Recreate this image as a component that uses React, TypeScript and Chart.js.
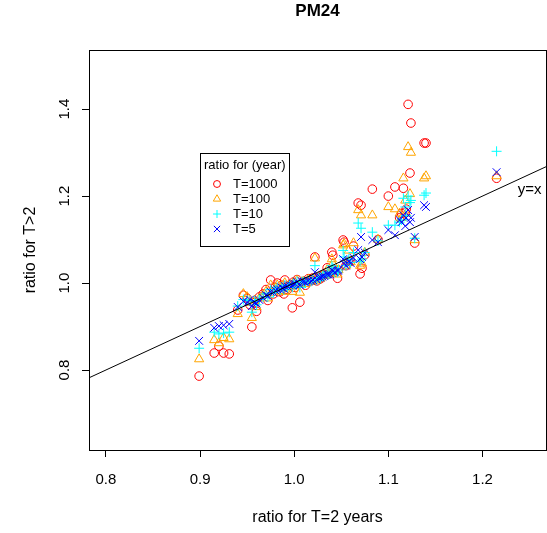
import React, { useEffect, useRef } from "react";
import { Chart, registerables } from "chart.js";

Chart.register(...registerables);

const TITLE = "PM24";
const X_LABEL = "ratio for T=2 years";
const Y_LABEL = "ratio for T>2";
const LEGEND_TITLE = "ratio for (year)";
const SERIES_NAMES = ["T=1000", "T=100", "T=10", "T=5"];
const SERIES_COLORS = ["#FF0000", "#FFA500", "#00FFFF", "#0000FF"];
const REF_LABEL = "y=x";
const X_TICKS = [0.8, 0.9, 1.0, 1.1, 1.2];
const Y_TICKS = [0.8, 1.0, 1.2, 1.4];
const X_MIN = 0.782;
const X_MAX = 1.2675;
const Y_MIN = 0.616;
const Y_MAX = 1.536;

// ratio for T=2 years (x values, one per station)
const ratioT2 = [
  0.899, 0.915, 0.920, 0.925, 0.931, 0.940, 0.946, 0.950, 0.955, 0.953,
  0.958, 0.960, 0.963, 0.967, 0.970, 0.972, 0.975, 0.978, 0.980, 0.982,
  0.985, 0.987, 0.989, 0.990, 0.993, 0.995, 0.998, 0.999, 1.001, 1.003,
  1.006, 1.008, 1.010, 1.012, 1.015, 1.018, 1.020, 1.022, 1.024, 1.026,
  1.028, 1.030, 1.032, 1.035, 1.036, 1.038, 1.040, 1.041, 1.043, 1.046,
  1.047, 1.052, 1.053, 1.055, 1.058, 1.060, 1.063, 1.070, 1.068, 1.071,
  1.072, 1.075, 1.083, 1.089, 1.100, 1.107, 1.112, 1.114, 1.116, 1.118,
  1.119, 1.121, 1.123, 1.124, 1.128, 1.138, 1.140, 1.215,
];

const ratioT1000 = [
  0.786, 0.839, 0.855, 0.839, 0.837, 0.938, 0.972, 0.965, 0.899, 0.950,
  0.955, 0.935, 0.968, 0.975, 0.985, 0.960, 1.007, 0.975, 0.990, 1.000,
  0.980, 0.995, 0.975, 1.007, 0.985, 0.995, 0.943, 1.002, 0.990, 1.008,
  0.956, 1.000, 1.004, 0.995, 1.010, 1.005, 1.012, 1.060, 1.005, 1.012,
  1.010, 1.018, 1.020, 1.035, 1.020, 1.023, 1.071, 1.064, 1.025, 1.011,
  1.030, 1.099, 1.094, 1.040, 1.050, 1.050, 1.085, 1.021, 1.184, 1.179,
  1.034, 1.065, 1.216, 1.100, 1.200, 1.221, 1.150, 1.160, 1.218, 1.163,
  1.170, 1.411, 1.253, 1.368, 1.092, 1.322, 1.322, 1.241,
];

const ratioT100 = [
  0.825, 0.869, 0.862, 0.874, 0.871, 0.929, 0.975, 0.968, 0.920, 0.955,
  0.960, 0.945, 0.965, 0.972, 0.980, 0.965, 0.995, 0.978, 0.988, 0.995,
  0.982, 0.993, 0.980, 1.000, 0.988, 0.995, 0.980, 1.000, 0.993, 1.006,
  0.978, 1.002, 1.003, 0.998, 1.008, 1.004, 1.010, 1.057, 1.006, 1.012,
  1.011, 1.017, 1.018, 1.030, 1.020, 1.022, 1.055, 1.045, 1.025, 1.020,
  1.030, 1.087, 1.090, 1.040, 1.075, 1.048, 1.092, 1.040, 1.168, 1.156,
  1.045, 1.070, 1.156, 1.100, 1.175, 1.170, 1.160, 1.150, 1.241, 1.190,
  1.160, 1.313, 1.205, 1.300, 1.099, 1.241, 1.246, 1.246,
];

const ratioT10 = [
  0.850, 0.887, 0.883, 0.885, 0.887, 0.947, 0.962, 0.960, 0.933, 0.960,
  0.958, 0.950, 0.962, 0.968, 0.975, 0.968, 0.985, 0.978, 0.985, 0.990,
  0.984, 0.990, 0.985, 0.995, 0.990, 0.995, 0.990, 0.999, 0.996, 1.004,
  0.990, 1.003, 1.003, 1.000, 1.006, 1.004, 1.008, 1.040, 1.007, 1.012,
  1.012, 1.016, 1.017, 1.025, 1.020, 1.021, 1.040, 1.035, 1.025, 1.025,
  1.030, 1.075, 1.060, 1.040, 1.055, 1.047, 1.070, 1.050, 1.138, 1.126,
  1.055, 1.070, 1.117, 1.097, 1.133, 1.133, 1.140, 1.145, 1.195, 1.175,
  1.155, 1.200, 1.185, 1.190, 1.103, 1.202, 1.207, 1.303,
];

const ratioT5 = [
  0.867, 0.897, 0.901, 0.903, 0.906, 0.945, 0.958, 0.955, 0.947, 0.962,
  0.955, 0.953, 0.961, 0.966, 0.972, 0.970, 0.980, 0.978, 0.983, 0.986,
  0.985, 0.989, 0.987, 0.993, 0.992, 0.995, 0.994, 0.998, 0.998, 1.003,
  0.995, 1.004, 1.003, 1.002, 1.005, 1.005, 1.007, 1.025, 1.008, 1.012,
  1.013, 1.015, 1.016, 1.020, 1.020, 1.020, 1.030, 1.028, 1.025, 1.028,
  1.030, 1.055, 1.045, 1.040, 1.050, 1.046, 1.058, 1.055, 1.076, 1.106,
  1.060, 1.070, 1.099, 1.094, 1.122, 1.110, 1.145, 1.140, 1.156, 1.131,
  1.150, 1.168, 1.140, 1.150, 1.106, 1.179, 1.175, 1.255,
];

const SERIES_VALUES = [ratioT1000, ratioT100, ratioT10, ratioT5];
const POINT_STYLES = ["circle", "triangle", "cross", "crossRot"];
const POINT_RADII = [4.3, 5.3, 5, 5.5];

const FONT_FAMILY = "'Liberation Sans', Arial, Helvetica, sans-serif";

function drawSymbol(ctx: CanvasRenderingContext2D, style: string, x: number, y: number, r: number) {
  ctx.beginPath();
  if (style === "circle") {
    ctx.arc(x, y, r, 0, Math.PI * 2);
  } else if (style === "triangle") {
    for (let k = 0; k < 3; k++) {
      const a = (k * 2 * Math.PI) / 3;
      const px = x + Math.sin(a) * r;
      const py = y - Math.cos(a) * r;
      if (k === 0) ctx.moveTo(px, py);
      else ctx.lineTo(px, py);
    }
    ctx.closePath();
  } else if (style === "cross") {
    ctx.moveTo(x - r, y);
    ctx.lineTo(x + r, y);
    ctx.moveTo(x, y - r);
    ctx.lineTo(x, y + r);
  } else {
    const d = r * Math.SQRT1_2;
    ctx.moveTo(x - d, y - d);
    ctx.lineTo(x + d, y + d);
    ctx.moveTo(x - d, y + d);
    ctx.lineTo(x + d, y - d);
  }
  ctx.stroke();
}

const decorPlugin = {
  id: "decor",
  afterDraw(chart: any) {
    const { ctx, chartArea: a, scales } = chart;
    const xs = scales.x;
    const ys = scales.y;
    ctx.save();
    // plot box
    ctx.strokeStyle = "#000";
    ctx.lineWidth = 1;
    ctx.strokeRect(Math.round(a.left) + 0.5, Math.round(a.top) + 0.5, Math.round(a.right - a.left), Math.round(a.bottom - a.top));

    // y=x label
    ctx.fillStyle = "#000";
    ctx.font = `15px ${FONT_FAMILY}`;
    ctx.textAlign = "center";
    ctx.textBaseline = "middle";
    ctx.fillText(REF_LABEL, xs.getPixelForValue(1.25), ys.getPixelForValue(1.214));

    // legend
    const lx = Math.round(xs.getPixelForValue(0.9));
    const ly = Math.round(ys.getPixelForValue(1.3));
    const lw = 89;
    const lh = 93;
    ctx.fillStyle = "#fff";
    ctx.fillRect(lx, ly, lw, lh);
    ctx.strokeStyle = "#000";
    ctx.strokeRect(lx + 0.5, ly + 0.5, lw, lh);
    ctx.fillStyle = "#000";
    ctx.font = `13px ${FONT_FAMILY}`;
    ctx.textAlign = "left";
    ctx.fillText(LEGEND_TITLE, lx + 4, ly + 12.5);
    SERIES_NAMES.forEach((name, i) => {
      const cy = ly + 31 + i * 15;
      ctx.strokeStyle = SERIES_COLORS[i];
      ctx.lineWidth = 1;
      drawSymbol(ctx, POINT_STYLES[i], lx + 17, cy, POINT_RADII[i] * 0.8);
      ctx.fillStyle = "#000";
      ctx.fillText(name, lx + 33, cy + 0.5);
    });
    ctx.restore();
  },
};

export default function App() {
  const canvasRef = useRef<HTMLCanvasElement | null>(null);

  useEffect(() => {
    const canvas = canvasRef.current;
    if (!canvas) return;

    const pointSets = SERIES_VALUES.map((vals, si) => ({
      type: "scatter" as const,
      label: SERIES_NAMES[si],
      data: ratioT2.map((x, i) => ({ x, y: vals[i] })),
      pointStyle: POINT_STYLES[si],
      pointRadius: POINT_RADII[si],
      pointBorderWidth: 1,
      borderColor: SERIES_COLORS[si],
      pointBorderColor: SERIES_COLORS[si],
      backgroundColor: "rgba(0,0,0,0)",
      pointBackgroundColor: "rgba(0,0,0,0)",
      showLine: false,
      order: 4 - si,
    }));

    const refLine = {
      type: "line" as const,
      label: REF_LABEL,
      data: [
        { x: X_MIN, y: X_MIN },
        { x: X_MAX, y: X_MAX },
      ],
      borderColor: "#000",
      borderWidth: 1,
      pointRadius: 0,
      fill: false,
      tension: 0,
      order: 0,
    };

    const chart = new Chart(canvas, {
      type: "scatter",
      data: { datasets: [...pointSets, refLine] as any },
      plugins: [decorPlugin],
      options: {
        animation: false,
        responsive: false,
        devicePixelRatio: 1,
        events: [],
        layout: { autoPadding: false, padding: { left: 0, right: 1, top: 0, bottom: 0 } },
        plugins: {
          legend: { display: false },
          tooltip: { enabled: false },
          title: {
            display: true,
            text: TITLE,
            fullSize: false,
            color: "#000",
            font: { family: FONT_FAMILY, size: 17, weight: "bold", lineHeight: 1.2 },
            padding: { top: 1, bottom: 28.6 },
          },
        },
        scales: {
          x: {
            type: "linear",
            position: "bottom",
            min: X_MIN,
            max: X_MAX,
            afterBuildTicks: (s: any) => {
              s.ticks = X_TICKS.map((v) => ({ value: v }));
            },
            afterFit: (s: any) => {
              s.height = 83;
              s.paddingLeft = 0;
              s.paddingRight = 0;
            },
            ticks: {
              autoSkip: false,
              maxRotation: 0,
              minRotation: 0,
              padding: 14,
              color: "#000",
              font: { family: FONT_FAMILY, size: 15, lineHeight: 1.2 },
              callback: (v: any) => Number(v).toFixed(1),
            },
            grid: {
              display: true,
              drawOnChartArea: false,
              drawTicks: true,
              tickLength: 7,
              color: "#000",
              lineWidth: 1,
            },
            border: { display: false },
            title: {
              display: true,
              text: X_LABEL,
              color: "#000",
              font: { family: FONT_FAMILY, size: 16, lineHeight: 1.2 },
              padding: { top: 0, bottom: 5.4 },
            },
          },
          y: {
            type: "linear",
            position: "left",
            min: Y_MIN,
            max: Y_MAX,
            afterBuildTicks: (s: any) => {
              s.ticks = Y_TICKS.map((v) => ({ value: v }));
            },
            afterFit: (s: any) => {
              s.width = 89;
              s.paddingTop = 0;
              s.paddingBottom = 0;
            },
            ticks: {
              autoSkip: false,
              minRotation: 90,
              maxRotation: 90,
              crossAlign: "center",
              padding: 7,
              color: "#000",
              font: { family: FONT_FAMILY, size: 15, lineHeight: 1.2 },
              callback: (v: any) => Number(v).toFixed(1),
            },
            grid: {
              display: true,
              drawOnChartArea: false,
              drawTicks: true,
              tickLength: 7,
              color: "#000",
              lineWidth: 1,
            },
            border: { display: false },
            title: {
              display: true,
              text: Y_LABEL,
              color: "#000",
              font: { family: FONT_FAMILY, size: 16, lineHeight: 1.2 },
              padding: { top: 21, bottom: 0 },
            },
          },
        },
      } as any,
    });

    return () => chart.destroy();
  }, []);

  return (
    <div style={{ position: "absolute", left: 0, top: 0, width: 547, height: 533, background: "#fff" }}>
      <canvas ref={canvasRef} width={547} height={533} style={{ display: "block", width: 547, height: 533 }} />
    </div>
  );
}
